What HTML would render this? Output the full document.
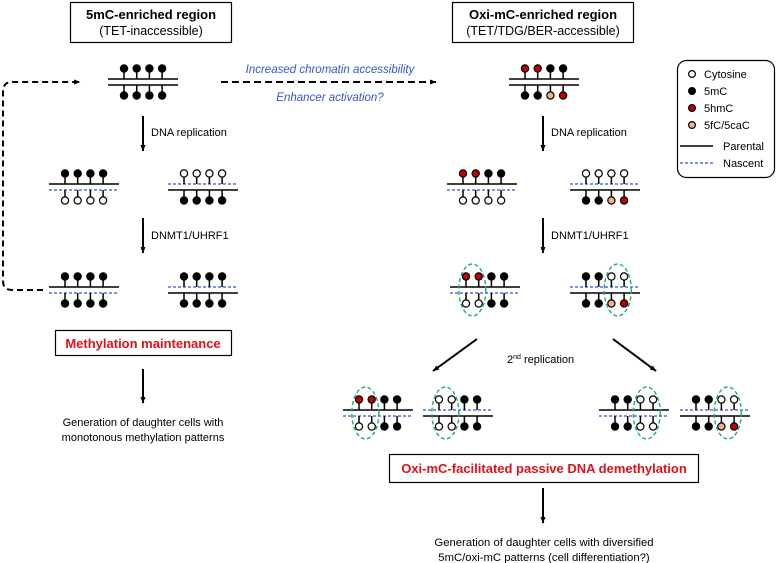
<!DOCTYPE html>
<html><head><meta charset="utf-8"><style>
html,body{margin:0;padding:0;background:#fff;}
svg{display:block;font-family:"Liberation Sans",Arial,sans-serif;}
</style></head><body>
<svg id="s" width="777" height="563" viewBox="0 0 777 563" xmlns="http://www.w3.org/2000/svg">
<defs>
<marker id="ah" markerWidth="8" markerHeight="8" refX="6" refY="4" orient="auto" markerUnits="userSpaceOnUse"><path d="M0,1.5 L6.5,4 L0,6.5 Z" fill="#000"/></marker>
</defs>
<rect x="70.5" y="2.5" width="161" height="40" fill="#fff" stroke="#000" stroke-width="1.2"/>
<text x="151" y="19" font-size="13" font-weight="bold" text-anchor="middle">5mC-enriched region</text>
<text x="151" y="35" font-size="12.5" text-anchor="middle">(TET-inaccessible)</text>
<rect x="452.5" y="2.5" width="181" height="40" fill="#fff" stroke="#000" stroke-width="1.2"/>
<text x="543" y="19" font-size="13" font-weight="bold" text-anchor="middle">Oxi-mC-enriched region</text>
<text x="543" y="35" font-size="12.5" text-anchor="middle">(TET/TDG/BER-accessible)</text>
<line x1="221" y1="82" x2="436" y2="82" stroke="#000" stroke-width="2" stroke-dasharray="7,4" marker-end="url(#ah)"/>
<text x="330" y="73" font-size="11.5" font-style="italic" fill="#3355cc" text-anchor="middle">Increased chromatin accessibility</text>
<text x="330" y="101" font-size="11.5" font-style="italic" fill="#3355cc" text-anchor="middle">Enhancer activation?</text>
<path d="M43,290 L12,290 Q3,290 3,281 L3,92 Q3,82 12,82 L80,82" fill="none" stroke="#000" stroke-width="2" stroke-dasharray="6,4" marker-end="url(#ah)"/>
<g stroke="#000" stroke-width="2" marker-end="url(#ah)">
<line x1="143" y1="116" x2="143" y2="151"/>
<line x1="143" y1="218" x2="143" y2="253"/>
<line x1="143" y1="369" x2="143" y2="403"/>
<line x1="543" y1="116" x2="543" y2="151"/>
<line x1="543" y1="218" x2="543" y2="253"/>
<line x1="543" y1="488" x2="543" y2="523"/>
<line x1="477" y1="339" x2="433" y2="371"/>
<line x1="613" y1="339" x2="656" y2="371"/>
</g>
<g font-size="11">
<text x="151" y="136">DNA replication</text>
<text x="151" y="239">DNMT1/UHRF1</text>
<text x="551" y="136">DNA replication</text>
<text x="551" y="239">DNMT1/UHRF1</text>
<text x="507" y="363">2<tspan font-size="7" dy="-4">nd</tspan><tspan dy="4"> replication</tspan></text>
<text x="143" y="426" text-anchor="middle">Generation of daughter cells with</text>
<text x="143" y="441" text-anchor="middle">monotonous methylation patterns</text>
<text x="544" y="546" text-anchor="middle" font-size="11.3">Generation of daughter cells with diversified</text>
<text x="544" y="561" text-anchor="middle" font-size="11.3">5mC/oxi-mC patterns (cell differentiation?)</text>
</g>
<rect x="55.5" y="330.5" width="176" height="25" fill="#fff" stroke="#000" stroke-width="1.2"/>
<text x="143" y="348" font-size="13" font-weight="bold" fill="#e0101a" text-anchor="middle">Methylation maintenance</text>
<rect x="389.5" y="454.5" width="309" height="28" fill="#fff" stroke="#000" stroke-width="1.2"/>
<text x="544" y="473" font-size="13" font-weight="bold" fill="#e0101a" text-anchor="middle">Oxi-mC-facilitated passive DNA demethylation</text>
<rect x="677.5" y="60.5" width="97" height="117" rx="9" fill="#fff" stroke="#000" stroke-width="1.2"/>
<g font-size="11">
<circle cx="692" cy="74" r="3.4" fill="#fff" stroke="#000" stroke-width="1.2"/><text x="704" y="78">Cytosine</text>
<circle cx="692" cy="91" r="3.4" fill="#000" stroke="#000" stroke-width="1.2"/><text x="704" y="95">5mC</text>
<circle cx="692" cy="108" r="3.4" fill="#c00000" stroke="#000" stroke-width="1.2"/><text x="704" y="112">5hmC</text>
<circle cx="692" cy="125" r="3.4" fill="#f4b183" stroke="#000" stroke-width="1.2"/><text x="704" y="129">5fC/5caC</text>
<line x1="680" y1="146" x2="713" y2="146" stroke="#000" stroke-width="1.5"/><text x="723" y="150">Parental</text>
<line x1="680" y1="163" x2="713" y2="163" stroke="#3355cc" stroke-width="1.3" stroke-dasharray="3,2"/><text x="723" y="167">Nascent</text>
</g>
<g id="dna"></g>
</svg>
<script>
var g=document.getElementById('dna'),NS="http://www.w3.org/2000/svg";
function el(t,a){var e=document.createElementNS(NS,t);for(var k in a)e.setAttribute(k,a[k]);g.appendChild(e);return e;}
var col={o:'#fff',b:'#000',r:'#c00000',y:'#f4b183'};
function dna(x0,y,top,bot,ud,ld,ell){
  var y2=y+6;
  function ln(yy,d){if(d)el('line',{x1:x0,y1:yy,x2:x0+70,y2:yy,stroke:'#3355cc','stroke-width':1.3,'stroke-dasharray':'3,2'});else el('line',{x1:x0,y1:yy,x2:x0+70,y2:yy,stroke:'#000','stroke-width':1.6});}
  ln(y,ud);ln(y2,ld);
  for(var i=0;i<4;i++){var cx=x0+16+i*12.7;
    el('line',{x1:cx,y1:y,x2:cx,y2:y-10,stroke:'#000','stroke-width':1.5});
    el('circle',{cx:cx,cy:y-10.5,r:3.6,fill:col[top[i]],stroke:'#000','stroke-width':1.2});
    el('line',{x1:cx,y1:y2,x2:cx,y2:y2+10,stroke:'#000','stroke-width':1.5});
    el('circle',{cx:cx,cy:y2+10.5,r:3.6,fill:col[bot[i]],stroke:'#000','stroke-width':1.2});
  }
  if(ell!==undefined){var ex=x0+16+ell*12.7+6.35;
    el('ellipse',{cx:ex,cy:y+3,rx:13.5,ry:26,fill:'none',stroke:'#22aa77','stroke-width':1.4,'stroke-dasharray':'4,2.5'});}
}
dna(108,79,'bbbb','bbbb',0,0);
dna(49,184,'bbbb','oooo',0,1);
dna(168,184,'oooo','bbbb',1,0);
dna(49,287,'bbbb','bbbb',0,1);
dna(168,287,'bbbb','bbbb',1,0);
dna(509,79,'rrbb','bbyr',0,0);
dna(447,184,'rrbb','oooo',0,1);
dna(570,184,'oooo','bbyr',1,0);
dna(450,287,'rrbb','oobb',0,1,0);
dna(570,287,'bboo','bbyr',1,0,2);
dna(343,410,'rrbb','oobb',0,1,0);
dna(423,410,'oobb','oobb',1,0,0);
dna(599,410,'bboo','bboo',0,1,2);
dna(680,410,'bboo','bbyr',1,0,2);
</script>
</body></html>
